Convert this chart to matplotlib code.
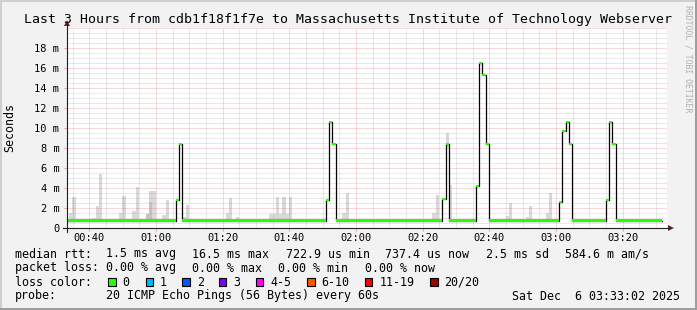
import matplotlib
matplotlib.use('Agg')
import matplotlib.pyplot as plt
from matplotlib.patches import Rectangle, Polygon
from matplotlib.lines import Line2D

W, H = 697, 310
MONO = 'DejaVu Sans Mono'

# ---------------- data (minute of day, ms) ----------------
x_start, x_end = 33.3, 213.3

med_t = [33.3, 65.9, 66.9, 67.9, 110.9, 111.9, 112.9, 113.9, 145.9, 146.9, 147.9,
         155.9, 156.9, 157.9, 158.9, 159.9, 180.9, 181.9, 182.9, 183.9, 184.9,
         194.9, 195.9, 196.9, 197.9]
med_v = [0.74, 2.8, 8.4, 0.74, 2.8, 10.6, 8.4, 0.74, 2.9, 8.4, 0.74,
         4.2, 16.5, 15.3, 8.4, 0.74, 2.6, 9.7, 10.6, 8.4, 0.74,
         2.8, 10.6, 8.4, 0.74]
med_end = 211.9

smoke_t = [33.9, 34.9, 40.9, 41.9, 42.9, 48.9, 49.9, 52.9, 53.9, 56.9, 57.9, 58.9,
           61.9, 62.9, 67.9, 68.9, 80.9, 81.9, 83.9, 93.9, 94.9, 95.9, 96.9, 97.9,
           98.9, 99.9, 115.9, 116.9, 122.9, 123.9, 128.9, 142.9, 143.9, 146.9, 147.9,
           164.9, 165.9, 170.9, 171.9, 176.9, 177.9, 185.9, 187.9, 188.9, 203.9, 204.9]
smoke_hi = [1.5, 3.1, 1.0, 2.2, 5.4, 1.5, 3.2, 1.7, 4.1, 1.4, 3.7, 3.7,
            1.3, 2.8, 1.1, 2.3, 1.5, 3.0, 1.1, 1.4, 1.4, 3.1, 1.4, 3.1,
            1.4, 3.1, 1.5, 3.5, 0.95, 0.95, 0.95, 1.5, 3.3, 9.5, 4.3,
            1.2, 2.5, 1.1, 2.2, 1.5, 3.5, 0.9, 0.85, 0.85, 0.85, 0.85]
smoke_lo = [0.65, 0.65, 0.65, 0.65, 0.65, 0.65, 0.65, 0.65, 0.65, 0.65, 0.65, 0.65,
            0.65, 0.65, 0.65, 0.65, 0.65, 0.65, 0.65, 0.65, 0.65, 0.65, 0.65, 0.65,
            0.65, 0.65, 0.65, 0.65, 0.65, 0.65, 0.65, 0.65, 0.65, 8.0, 0.65,
            0.65, 0.65, 0.65, 0.65, 0.65, 0.65, 0.65, 0.65, 0.65, 0.65, 0.65]
dark_t = [56.9, 57.9]
dark_hi = [1.4, 2.6]

xticks = [40, 60, 80, 100, 120, 140, 160, 180, 200]
xlabels = ['00:40', '01:00', '01:20', '01:40', '02:00', '02:20', '02:40', '03:00', '03:20']
yticks = [0, 2, 4, 6, 8, 10, 12, 14, 16, 18]
ylabels = ['0', '2 m', '4 m', '6 m', '8 m', '10 m', '12 m', '14 m', '16 m', '18 m']

title = 'Last 3 Hours from cdb1f18f1f7e to Massachusetts Institute of Technology Webserver'
rtt_items = ['1.5 ms avg', '16.5 ms max', '722.9 us min', '737.4 us now', '2.5 ms sd', '584.6 m am/s']
loss_items = ['0.00 % avg', '0.00 % max', '0.00 % min', '0.00 % now']
loss_labels = ['0', '1', '2', '3', '4-5', '6-10', '11-19', '20/20']
loss_colors = ['#26ff00', '#00b8ff', '#0059ff', '#7e00ff', '#ff00ff', '#ff5500', '#ff0000', '#a00000']
probe_text = '20 ICMP Echo Pings (56 Bytes) every 60s'
date_text = 'Sat Dec  6 03:33:02 2025'

# ---------------- figure ----------------
fig = plt.figure(figsize=(W / 100, H / 100), dpi=100)
fig.patch.set_facecolor('#f2f2f2')


def fx(x):
    return x / W


def fy(y):
    return 1 - y / H


# 3D border
fig.add_artist(Rectangle((0, fy(2)), 1, 2 / H, transform=fig.transFigure, color='#cfcfcf', lw=0))
fig.add_artist(Rectangle((0, 0), 2 / W, 1, transform=fig.transFigure, color='#cfcfcf', lw=0))
fig.add_artist(Rectangle((0, 0), 1, 2 / H, transform=fig.transFigure, color='#9e9e9e', lw=0))
fig.add_artist(Rectangle((fx(W - 2), 0), 2 / W, 1, transform=fig.transFigure, color='#9e9e9e', lw=0))

ax = fig.add_axes([fx(67), fy(228), 600 / W, 200 / H])
ax.set_facecolor('white')
ax.set_xlim(x_start, x_end)
ax.set_ylim(0, 20)
for s in ax.spines.values():
    s.set_visible(False)

# grid (drawn over smoke, under median)
minor_c = (0.56, 0.56, 0.56, 0.38)
major_c = (0.87, 0.31, 0.31, 0.42)
dots = (0, (1, 1))
yv = 0.5
while yv <= 20.001:
    major = abs(yv / 2 - round(yv / 2)) < 1e-6
    ax.axhline(yv, color=major_c if major else minor_c, lw=0.72, ls=dots, zorder=1.5)
    yv += 0.5
for t in range(35, 213, 5):
    ax.axvline(t, color=major_c if t % 20 == 0 else minor_c, lw=0.72, ls=dots, zorder=1.5)

# smoke
ax.bar(smoke_t, [h - l for h, l in zip(smoke_hi, smoke_lo)], bottom=smoke_lo, width=1.0,
       align='edge', color='#d9d9d9', lw=0, zorder=1)
ax.bar(dark_t, [h - 0.65 for h in dark_hi], bottom=0.65, width=1.0,
       align='edge', color='#c4c4c4', lw=0, zorder=1.1)

# median
tt = med_t + [med_end]
vv = med_v + [med_v[-1]]
ax.step(tt, vv, where='post', color='#000000', lw=0.9, zorder=2)
ax.fill_between(tt, [v - 0.13 for v in vv], [v + 0.13 for v in vv], step='post',
                color='#26ff00', lw=0, zorder=3)

# ticks
ax.set_xticks(xticks)
ax.set_xticklabels(xlabels, fontfamily=MONO, fontsize=7.5)
ax.set_xticks(list(range(35, 213, 5)), minor=True)
ax.set_yticks(yticks)
ax.set_yticklabels(ylabels, fontfamily=MONO, fontsize=7.5)
ax.tick_params(axis='both', which='both', direction='out', length=2, width=0.7,
               color=(0.87, 0.31, 0.31, 0.5))
ax.tick_params(axis='x', which='major', pad=1.5)
ax.tick_params(axis='y', which='major', pad=3.5)
ax.tick_params(axis='both', which='minor', length=0)

# axes lines & arrows
fig.add_artist(Line2D([fx(63), fx(670)], [fy(228), fy(228)], transform=fig.transFigure,
                      color='#1f1f1f', lw=0.8))
fig.add_artist(Line2D([fx(67), fx(67)], [fy(232), fy(24)], transform=fig.transFigure,
                      color='#1f1f1f', lw=0.8))
fig.add_artist(Polygon([(fx(668), fy(225)), (fx(668), fy(231)), (fx(674), fy(228))],
                       closed=True, transform=fig.transFigure, color='#801f1f', lw=0))
fig.add_artist(Polygon([(fx(64), fy(26)), (fx(70), fy(26)), (fx(67), fy(20))],
                       closed=True, transform=fig.transFigure, color='#801f1f', lw=0))


def T(x, y, s, **kw):
    d = dict(fontfamily=MONO, fontsize=8.4, va='center', ha='left', color='black')
    d.update(kw)
    fig.text(fx(x), fy(y), s, **d)


T(348.5, 19.5, title, fontsize=9.55, ha='center')
T(10, 128, 'Seconds', rotation=90, ha='center')
T(688, 59, 'RRDTOOL / TOBI OETIKER', rotation=270, ha='center', fontsize=5.9, color='#b0b0b0')

# legend
T(15, 254, 'median rtt:')
for x, s in zip([106.5, 192.5, 285.5, 385, 486, 565], rtt_items):
    T(x, 254, s)
T(15, 268, 'packet loss:')
for x, s in zip([106.5, 192.5, 278.5, 365], loss_items):
    T(x, 268, s)
T(15, 282, 'loss color:')
for x, s, c in zip([122.5, 160, 196.7, 233.3, 270.3, 321.7, 379.3, 444.5], loss_labels, loss_colors):
    fig.add_artist(Rectangle((fx(x - 14.5), fy(285.5)), 7.5 / W, 7.5 / H, transform=fig.transFigure,
                             facecolor=c, edgecolor='black', lw=0.8))
    T(x, 282, s)
T(15, 296, 'probe:')
T(106.5, 296, probe_text)
T(512.5, 296, date_text)

fig.savefig('out.png', dpi=100, facecolor=fig.get_facecolor())
